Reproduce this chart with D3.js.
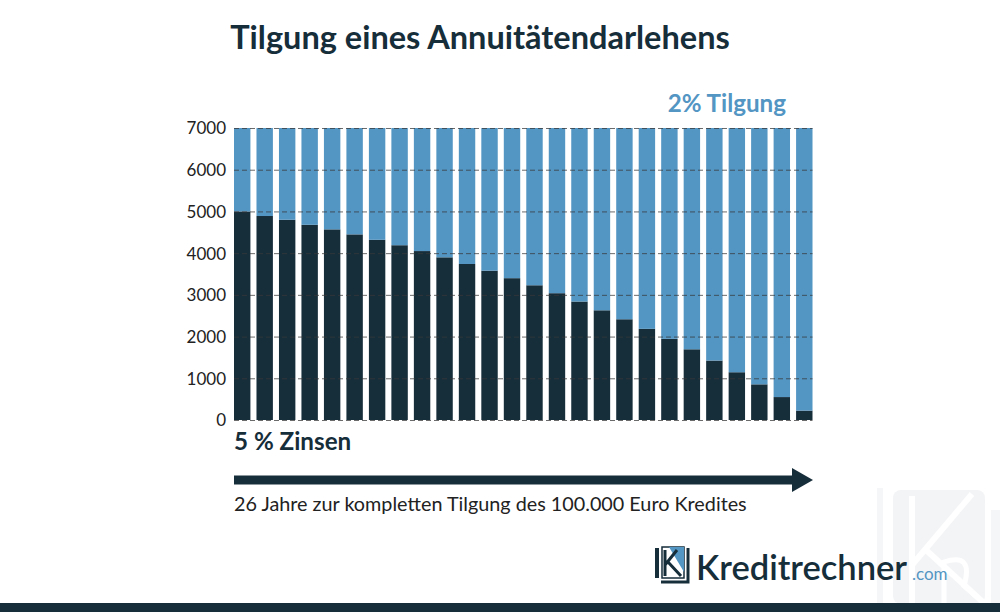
<!DOCTYPE html>
<html><head><meta charset="utf-8">
<script src="https://cdn.jsdelivr.net/npm/d3@7/dist/d3.min.js"></script>
<style>
html,body{margin:0;padding:0;background:#fff;}
svg{display:block;font-family:Lato,"Open Sans",sans-serif;}
</style></head>
<body><svg id="c" width="1000" height="612"></svg>
<script>
// ---- data ----
const years = d3.range(1, 27).map(String);
const zinsen = [5000, 4890, 4800, 4680, 4570, 4450, 4320, 4190, 4050, 3900, 3740, 3580, 3400, 3230, 3040, 2840, 2630, 2415, 2185, 1945, 1695, 1425, 1145, 855, 550, 225];
const tilgung = [2000, 2110, 2200, 2320, 2430, 2550, 2680, 2810, 2950, 3100, 3260, 3420, 3600, 3770, 3960, 4160, 4370, 4585, 4815, 5055, 5305, 5575, 5855, 6145, 6450, 6775];
const yTicks = [0, 1000, 2000, 3000, 4000, 5000, 6000, 7000];
const titleText = "Tilgung eines Annuitätendarlehens";
const seriesLabelTop = "2% Tilgung";
const seriesLabelBottom = "5 % Zinsen";
const arrowText = "26 Jahre zur kompletten Tilgung des 100.000 Euro Kredites";

const DARK = "#162d3a", BLUE = "#5395c3";
const svg = d3.select("#c");

// watermark
const wm = svg.append("g");
wm.append("rect").attr("x", 877).attr("y", 488).attr("width", 6).attr("height", 116).attr("fill", "#f5f6f8");
wm.append("rect").attr("x", 893).attr("y", 490).attr("width", 92).attr("height", 114).attr("rx", 8).attr("fill", "#f3f4f6");
wm.append("rect").attr("x", 991).attr("y", 510).attr("width", 9).attr("height", 94).attr("fill", "#f5f6f8");
wm.append("path").attr("d", "M912,496 L912,604 M912,565 L972,494 M926,550 L985,604")
  .attr("stroke", "#fff").attr("stroke-width", 6).attr("fill", "none");
wm.append("path").attr("d", "M944,604 L944,562 Q974,552 964,586 L985,604")
  .attr("stroke", "#fff").attr("stroke-width", 5).attr("fill", "none");

// title
svg.append("text").attr("x", 480).attr("y", 49).attr("text-anchor", "middle")
  .attr("font-size", 32.5).attr("font-weight", 700).attr("fill", DARK).text(titleText);

// scales
const x = d3.scaleBand().domain(years).range([234, 812.5]).paddingInner(0.27).paddingOuter(0);
const y = d3.scaleLinear().domain([0, 7000]).range([420, 128]);

// stacked bars
const rows = years.map((yr, i) => ({year: yr, zinsen: zinsen[i], tilgung: tilgung[i]}));
const stack = d3.stack().keys(["zinsen", "tilgung"])(rows);
const colors = {zinsen: DARK, tilgung: BLUE};
svg.append("g").selectAll("g").data(stack).join("g")
  .attr("fill", d => colors[d.key])
  .selectAll("rect").data(d => d).join("rect")
  .attr("x", d => x(d.data.year))
  .attr("width", x.bandwidth())
  .attr("y", d => y(d[1]))
  .attr("height", d => y(d[0]) - y(d[1]));

// gridlines (on top)
const grid = d3.axisLeft(y).tickValues(yTicks).tickSize(-(812.5 - 234)).tickFormat("");
const gg = svg.append("g").attr("transform", "translate(234,0)").call(grid);
gg.select(".domain").remove();
gg.selectAll("line").attr("stroke", "#3a3a3a").attr("stroke-opacity", 0.75)
  .attr("stroke-dasharray", "5,3").attr("stroke-width", 1);

// y axis labels
const ya = d3.axisLeft(y).tickValues(yTicks).tickSize(0).tickPadding(0).tickFormat(d3.format("d"));
const ag = svg.append("g").attr("transform", "translate(226,0)").call(ya);
ag.select(".domain").remove();
ag.selectAll("text").attr("font-family", "Lato, sans-serif").attr("font-size", 17)
  .attr("fill", "#222").attr("dy", "0.35em");

// series labels
svg.append("text").attr("x", 786).attr("y", 112).attr("text-anchor", "end")
  .attr("font-size", 24.2).attr("font-weight", 700).attr("fill", BLUE).text(seriesLabelTop);
svg.append("text").attr("x", 234).attr("y", 450)
  .attr("font-size", 24.2).attr("font-weight", 700).attr("fill", DARK).text(seriesLabelBottom);

// arrow
svg.append("rect").attr("x", 234).attr("y", 475.5).attr("width", 560).attr("height", 9).attr("fill", DARK);
svg.append("path").attr("d", "M792,468 L813,480 L792,492 Z").attr("fill", DARK);
svg.append("text").attr("x", 234).attr("y", 511)
  .attr("font-size", 19.8).attr("fill", "#222").text(arrowText);

// logo
const lg = svg.append("g");
lg.append("rect").attr("x", 655).attr("y", 548).attr("width", 4).attr("height", 30).attr("fill", DARK);
lg.append("path").attr("d", "M661,582 L688,582 L688,548").attr("stroke", DARK).attr("stroke-width", 3).attr("fill", "none");
lg.append("rect").attr("x", 662).attr("y", 547).attr("width", 22).attr("height", 31).attr("fill", "#fff").attr("stroke", DARK).attr("stroke-width", 1.5);
lg.append("path").attr("d", "M669,547 L684,547 L684,572 Z").attr("fill", BLUE);
lg.append("path").attr("d", "M665,550 L665,576 M665,565 L677,550 M668,562 L681,576")
  .attr("stroke", DARK).attr("stroke-width", 3).attr("fill", "none");
svg.append("text").attr("x", 696).attr("y", 580)
  .attr("font-size", 34.5).attr("font-weight", 600).attr("fill", DARK).text("Kreditrechner");
svg.append("text").attr("x", 912).attr("y", 580)
  .attr("font-size", 17).attr("fill", BLUE).text(".com");

// bottom band
svg.append("rect").attr("x", 0).attr("y", 603).attr("width", 1000).attr("height", 9).attr("fill", DARK);
</script></body></html>
